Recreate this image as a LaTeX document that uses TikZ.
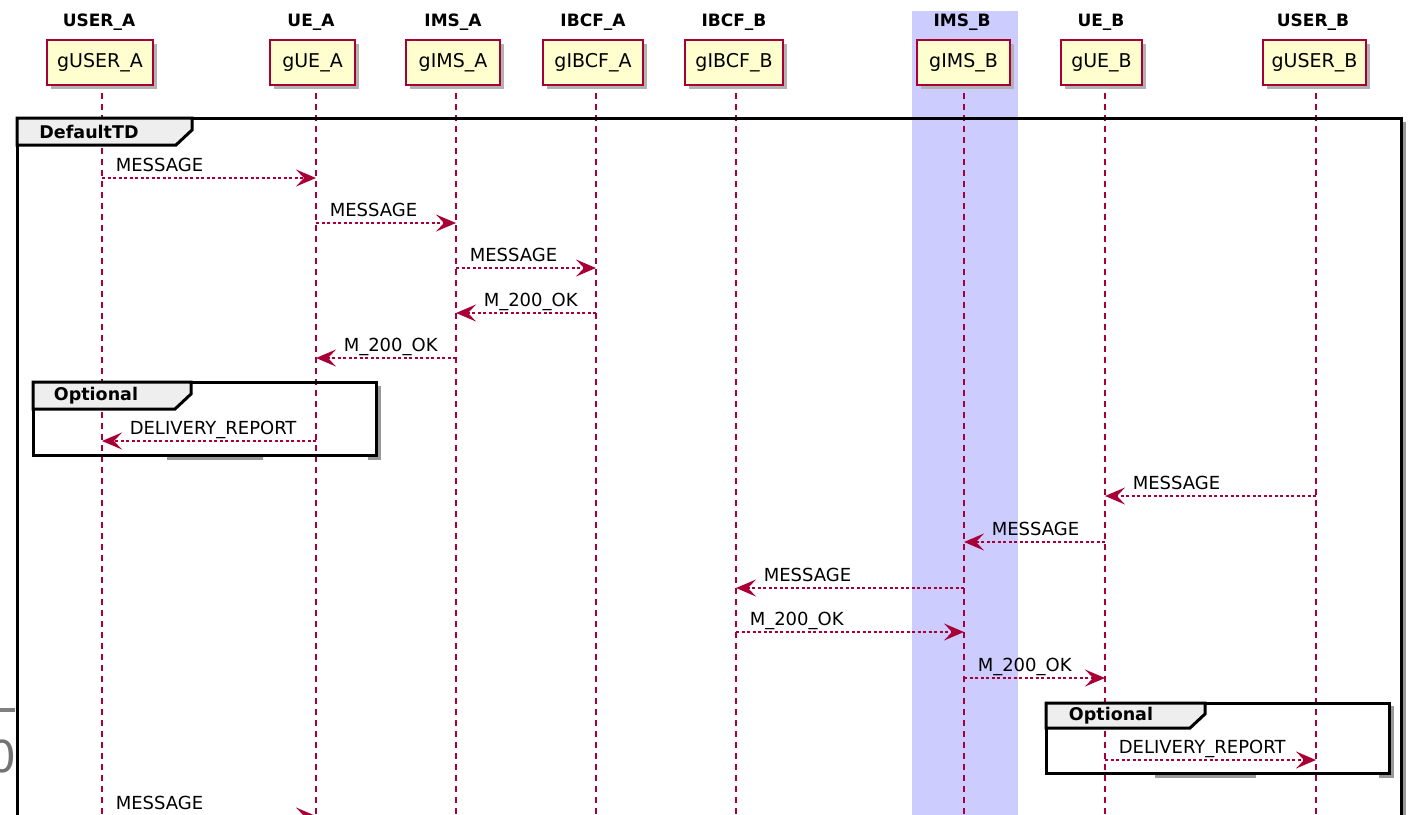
\documentclass[tikz,border=0pt]{standalone}
\usepackage{fontspec}
\setmainfont{DejaVu Sans}
\usetikzlibrary{arrows.meta}
\definecolor{pred}{HTML}{A80036}
\definecolor{pfill}{HTML}{FEFECE}
\definecolor{band}{HTML}{CCCCFF}
\definecolor{tabfill}{HTML}{EEEEEE}
\begin{document}
\begin{tikzpicture}[x=1pt,y=-1pt,
 part/.style={draw=pred, fill=pfill, line width=1.8pt, minimum height=45pt, inner sep=0pt, font=\fontsize{19}{19}\selectfont},
 pshadow/.style={fill=black!30},
 head/.style={font=\bfseries\fontsize{17}{17}\selectfont, inner sep=0pt},
 life/.style={draw=pred, line width=1.3pt, dash pattern=on 6pt off 5pt},
 msg/.style={draw=pred, line width=1.5pt, dash pattern=on 3pt off 2.5pt, -{Stealth[length=20pt,width=17pt,inset=8pt]}},
 lblr/.style={font=\fontsize{18}{18}\selectfont, anchor=base west, inner sep=0pt, pos=0, xshift=13pt, yshift=7pt},
 lbll/.style={font=\fontsize{18}{18}\selectfont, anchor=base west, inner sep=0pt, pos=1, xshift=27pt, yshift=7pt},
 frameline/.style={draw=black, line width=3pt},
 fshadow/.style={draw=black!40, line width=3pt},
 tab/.style={fill=tabfill, draw=black, line width=3pt, line join=miter},
 tablbl/.style={font=\bfseries\fontsize{17.5}{17.5}\selectfont, inner sep=0pt}
]
\useasboundingbox (0,0) rectangle (1412,814);

% highlight band for IMS_B
\fill[band] (912,11) rectangle (1018,830);

% lifeline x coordinates
\coordinate (LUA) at (102,0);
\coordinate (LUE) at (316,0);
\coordinate (LIA) at (456,0);
\coordinate (LCA) at (596,0);
\coordinate (LCB) at (736,0);
\coordinate (LIB) at (964,0);
\coordinate (LEB) at (1105,0);
\coordinate (LUB) at (1316,0);

% headers
\node[head] (hUA) at (99,22) {USER\_A};
\node[head] (hUE) at (311,22) {UE\_A};
\node[head] (hIA) at (453,22) {IMS\_A};
\node[head] (hCA) at (593,22) {IBCF\_A};
\node[head] (hCB) at (734,22) {IBCF\_B};
\node[head] (hIB) at (962,22) {IMS\_B};
\node[head] (hEB) at (1101,22) {UE\_B};
\node[head] (hUB) at (1313,22) {USER\_B};

% participant shadows
\fill[pshadow] (51,44) rectangle (157,89);
\fill[pshadow] (274,44) rectangle (359,89);
\fill[pshadow] (410,44) rectangle (504,89);
\fill[pshadow] (547,44) rectangle (647,89);
\fill[pshadow] (689,44) rectangle (787,89);
\fill[pshadow] (921,44) rectangle (1014,89);
\fill[pshadow] (1065,44) rectangle (1146,89);
\fill[pshadow] (1267,44) rectangle (1370,89);

% participants
\node[part, minimum width=106pt] (gUA) at (100,62.5) {gUSER\_A};
\node[part, minimum width=85pt] (gUE) at (312.5,62.5) {gUE\_A};
\node[part, minimum width=94pt] (gIA) at (453,62.5) {gIMS\_A};
\node[part, minimum width=100pt] (gCA) at (593,62.5) {gIBCF\_A};
\node[part, minimum width=98pt] (gCB) at (734,62.5) {gIBCF\_B};
\node[part, minimum width=93pt] (gIB) at (963.5,62.5) {gIMS\_B};
\node[part, minimum width=81pt] (gEB) at (1101.5,62.5) {gUE\_B};
\node[part, minimum width=103pt] (gUB) at (1314.5,62.5) {gUSER\_B};

% lifelines
\foreach \c in {LUA,LUE,LIA,LCA,LCB,LIB,LEB,LUB}
  \draw[life] (\c |- 0,93) -- (\c |- 0,830);

% DefaultTD frame
\draw[fshadow] (1404.5,122) -- (1404.5,830);
\draw[frameline] (17,830) -- (17,118) -- (1401,118) -- (1401,830);
\draw[tab] (17,118) -- (192,118) -- (192,130) -- (176,145) -- (17,145) -- cycle;
\node[tablbl] (tDef) at (89,132) {DefaultTD};

% Optional frame 1
\draw[fshadow] (379.5,386) -- (379.5,458);
\draw[fshadow] (167,458.5) -- (263,458.5);
\draw[fshadow] (368,458.5) -- (381,458.5);
\draw[frameline] (33,382) rectangle (376,455);
\draw[tab] (33,382) -- (191,382) -- (191,394) -- (175,409) -- (33,409) -- cycle;
\node[tablbl] (tOpt1) at (96,396) {Optional};

% Optional frame 2
\draw[fshadow] (1392.5,706) -- (1392.5,776);
\draw[fshadow] (1155,776.5) -- (1256,776.5);
\draw[fshadow] (1379,776.5) -- (1394,776.5);
\draw[frameline] (1046,703) rectangle (1389,773);
\draw[tab] (1046,703) -- (1205,703) -- (1205,714) -- (1190,728) -- (1046,728) -- cycle;
\node[tablbl] (tOpt2) at (1111,716) {Optional};

% messages
\draw[msg] (LUA |- 0,178) -- node[lblr] (m1) {MESSAGE} (LUE |- 0,178);
\draw[msg] (LUE |- 0,223) -- node[lblr] (m2) {MESSAGE} (LIA |- 0,223);
\draw[msg] (LIA |- 0,268) -- node[lblr] (m3) {MESSAGE} (LCA |- 0,268);
\draw[msg] (LCA |- 0,313) -- node[lbll] (m4) {M\_200\_OK} (LIA |- 0,313);
\draw[msg] (LIA |- 0,358) -- node[lbll] (m5) {M\_200\_OK} (LUE |- 0,358);
\draw[msg] (LUE |- 0,441) -- node[lbll] (m6) {DELIVERY\_REPORT} (LUA |- 0,441);
\draw[msg] (LUB |- 0,496) -- node[lbll] (m7) {MESSAGE} (LEB |- 0,496);
\draw[msg] (LEB |- 0,542) -- node[lbll] (m8) {MESSAGE} (LIB |- 0,542);
\draw[msg] (LIB |- 0,588) -- node[lbll] (m9) {MESSAGE} (LCB |- 0,588);
\draw[msg] (LCB |- 0,632) -- node[lblr] (m10) {M\_200\_OK} (LIB |- 0,632);
\draw[msg] (LIB |- 0,678) -- node[lblr] (m11) {M\_200\_OK} (LEB |- 0,678);
\draw[msg] (LEB |- 0,760) -- node[lblr] (m12) {DELIVERY\_REPORT} (LUB |- 0,760);
\draw[msg] (LUA |- 0,816) -- node[lblr] (m13) {MESSAGE} (LUE |- 0,816);

% stray marks at left edge
\draw[draw=black!50, line width=4pt] (0,709.5) -- (15,709.5);
\node[text=black!55, font=\fontsize{44}{44}\selectfont, anchor=base east, inner sep=0pt] (zero) at (17,772) {0};
\end{tikzpicture}
\end{document}
